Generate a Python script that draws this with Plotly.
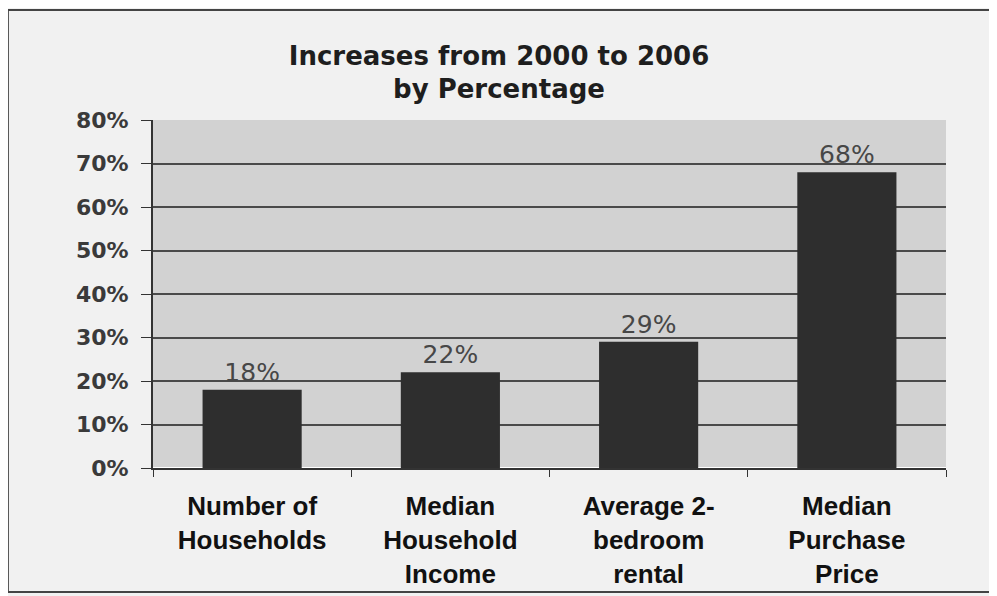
import plotly.graph_objects as go

categories = ["Number of<br>Households", "Median<br>Household<br>Income",
              "Average 2-<br>bedroom<br>rental", "Median<br>Purchase<br>Price"]
values = [18, 22, 29, 68]
value_labels = ["18%", "22%", "29%", "68%"]
y_ticks = [0, 10, 20, 30, 40, 50, 60, 70, 80]
y_tick_labels = ["0%", "10%", "20%", "30%", "40%", "50%", "60%", "70%", "80%"]

fig = go.Figure(go.Bar(
    x=categories, y=values, text=value_labels, textposition="outside",
    textfont=dict(family="DejaVu Sans", size=25, color="#474747"),
    marker=dict(color="#2e2e2e", line=dict(width=0)),
    cliponaxis=False,
))

fig.update_layout(
    width=997, height=596,
    margin=dict(l=145, r=59, t=112, b=136),
    paper_bgcolor="#f1f1f1",
    plot_bgcolor="#d2d2d2",
    bargap=0.5,
    showlegend=False,
    title=dict(text="<b>Increases from 2000 to 2006<br>by Percentage</b>",
               x=0.4925, xanchor="center", y=0.905, yanchor="top",
               font=dict(family="DejaVu Sans", size=26, color="#1e1e1e")),
    xaxis=dict(showline=True, linecolor="#333333", linewidth=2,
               ticks="outside", tickson="boundaries", ticklen=7, tickcolor="#333333",
               ticklabelstandoff=14,
               tickfont=dict(family="Liberation Sans, Arial", size=26, color="#111111"),
               showgrid=False),
    yaxis=dict(range=[0, 80], tickvals=y_ticks, ticktext=[f"<b>{t}</b>" for t in y_tick_labels],
               showline=True, linecolor="#333333", linewidth=2,
               ticks="outside", ticklen=10, tickcolor="#333333",
               ticklabelstandoff=8,
               gridcolor="#4a4a4a", gridwidth=2,
               tickfont=dict(family="DejaVu Sans", size=22, color="#3a3a3a")),
)
fig.update_xaxes(ticktext=[f"<b>{c}</b>" for c in categories], tickvals=categories)

fig.add_shape(type="rect", xref="paper", yref="paper", x0=-0.183, x1=1.1, y0=-0.356, y1=1.316,
              line=dict(color="#444444", width=2), fillcolor="rgba(0,0,0,0)", layer="below")

fig.write_html("out.html")
